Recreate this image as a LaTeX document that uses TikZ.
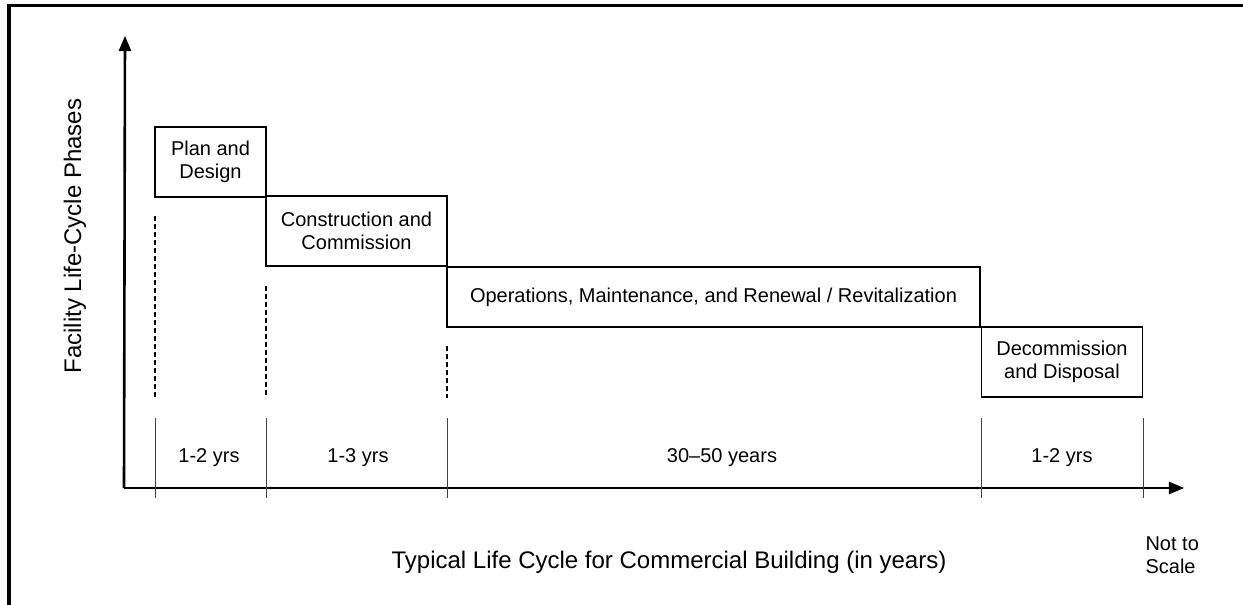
\documentclass[tikz,border=0pt]{standalone}
\usepackage{fontspec}
\setmainfont{Liberation Sans}
\usepackage{tikz}
\usetikzlibrary{arrows,positioning}

\begin{document}
\begin{tikzpicture}[x=1pt,y=-1pt,>=triangle 45]
  % Page size
  \useasboundingbox (0,0) rectangle (1243,605);

  % Styles
  \tikzstyle{frame}=[line width=3.5pt]
  \tikzstyle{axes}=[line width=2.6pt]
  \tikzstyle{phase}=[draw,line width=1.3pt,align=center,inner sep=0pt,
                     font=\fontsize{20}{22.5}\selectfont]
  \tikzstyle{tick}=[draw=black!75,line width=1pt]
  \tikzstyle{guide}=[line width=1.6pt,dash pattern=on 5pt off 3pt]
  \tikzstyle{label text}=[font=\fontsize{20}{23}\selectfont,align=left]
  \tikzstyle{axis text}=[font=\fontsize{24}{28}\selectfont]

  % Frame
  \draw[style=frame] (9,610) -- (9,5.5) -- (1250,5.5);

  % Axes
  \coordinate (origin) at (124,488);
  \coordinate (ytop) at (125,36);
  \coordinate (xend) at (1184,488);
  \draw[style=axes,->] (origin) -- (ytop);
  \draw[style=axes,->] (origin) -- (xend);

  \node[style=axis text,rotate=90] (phases) at (75,236) {Facility Life-Cycle Phases};
  \node[style=axis text] (cycle) at (669,562)
    {Typical Life Cycle for Commercial Building (in years)};
  \node[style=label text,anchor=west] (scale) at (1142,555) {Not to\\Scale};

  % Phases
  \node[style=phase,minimum width=111,minimum height=70] (plan) at (210.5,162)
    {Plan and\\Design};
  \node[style=phase,minimum width=181,minimum height=70] (build) at (356.5,231)
    {Construction and\\Commission};
  \node[style=phase,minimum width=533,minimum height=60] (operate) at (713.5,297)
    {Operations, Maintenance, and Renewal / Revitalization};
  \node[style=phase,minimum width=161,minimum height=70] (dispose) at (1062,362)
    {Decommission\\and Disposal};

  % Time spans
  \foreach \x/\name in {155/t0, 266/t1, 447/t2, 981/t3, 1143/t4}
    \draw[style=tick] (\x,418) coordinate (\name) -- (\x,498);

  \draw[style=guide] (155,216) -- (155,398);
  \draw[style=guide] (266,286) -- (266,398);
  \draw[style=guide] (447,346) -- (447,398);

  \foreach \x/\span/\name in {209/1-2 yrs/s0, 358/1-3 yrs/s1, 722/30--50 years/s2, 1062/1-2 yrs/s3}
    \node[style=label text] (\name) at (\x,458) {\span};
\end{tikzpicture}
\end{document}
